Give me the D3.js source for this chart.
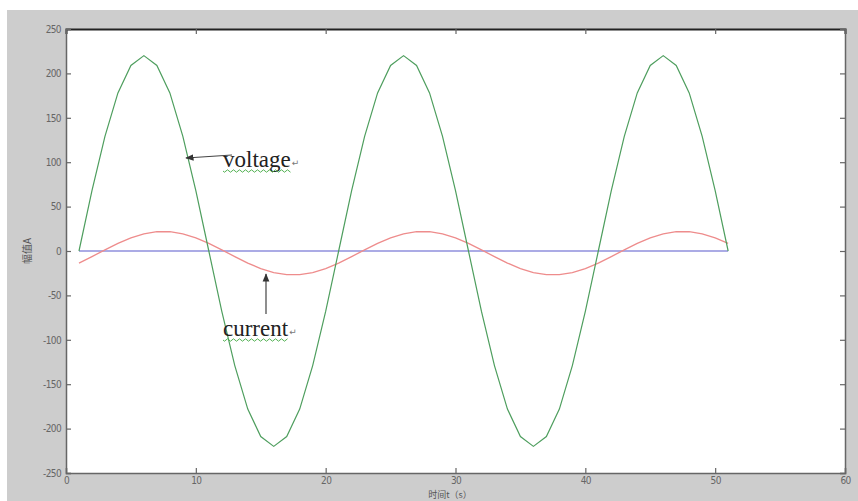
<!DOCTYPE html>
<html><head><meta charset="utf-8">
<script src="https://cdn.jsdelivr.net/npm/d3@7"></script>
<style>body{margin:0;background:#fff;}svg{display:block;}</style>
</head><body>
<script>
const t = d3.range(1, 52);
const voltage = [0,68,129,178,209,220,209,178,129,68,0,-68,-129,-178,-209,-220,-209,-178,-129,-68,
  0,68,129,178,209,220,209,178,129,68,0,-68,-129,-178,-209,-220,-209,-178,-129,-68,
  0,68,129,178,209,220,209,178,129,68,0];
const current = [-13.6,-6.3,1.3,8.6,14.8,19.3,21.7,21.7,19.3,14.8,8.6,1.3,-6.3,-13.6,-19.8,-24.3,-26.7,-26.7,-24.3,-19.8,
  -13.6,-6.3,1.3,8.6,14.8,19.3,21.7,21.7,19.3,14.8,8.6,1.3,-6.3,-13.6,-19.8,-24.3,-26.7,-26.7,-24.3,-19.8,
  -13.6,-6.3,1.3,8.6,14.8,19.3,21.7,21.7,19.3,14.8,8.6];
const baseline = t.map(() => 0);
const xTicks = [0,10,20,30,40,50,60];
const yTicks = [-250,-200,-150,-100,-50,0,50,100,150,200,250];
const xLabel = "时间t（s）";
const yLabel = "幅值A";

const W = 858, H = 501;
const svg = d3.select("body").append("svg").attr("width", W).attr("height", H);
svg.append("rect").attr("x", 7).attr("y", 10).attr("width", W - 7).attr("height", H - 10).attr("fill", "#cdcdcd");

const L = 66, R = 845, T = 29, B = 473;
const x = d3.scaleLinear().domain([0, 60]).range([L, R]);
const y = d3.scaleLinear().domain([-250, 250]).range([B, T]);

svg.append("rect").attr("x", L).attr("y", T).attr("width", R - L).attr("height", B - T).attr("fill", "#fff");

const line = d3.line().x((d, i) => x(t[i])).y(d => y(d));
svg.append("path").datum(baseline).attr("d", line).attr("fill", "none").attr("stroke", "#8f8fdc").attr("stroke-width", 1.3);
svg.append("path").datum(current).attr("d", line).attr("fill", "none").attr("stroke", "#ee8c8c").attr("stroke-width", 1.3);
svg.append("path").datum(voltage).attr("d", line).attr("fill", "none").attr("stroke", "#4e9e5e").attr("stroke-width", 1.2);

// axes
const tickFmt = d => d;
const gB = svg.append("g").attr("transform", `translate(0,${B})`).call(d3.axisBottom(x).tickValues(xTicks).tickSize(-5).tickPadding(4).tickFormat(tickFmt));
const gT = svg.append("g").attr("transform", `translate(0,${T})`).call(d3.axisTop(x).tickValues(xTicks).tickSize(-5).tickFormat(""));
const gL = svg.append("g").attr("transform", `translate(${L},0)`).call(d3.axisLeft(y).tickValues(yTicks).tickSize(-5).tickPadding(5).tickFormat(tickFmt));
const gR = svg.append("g").attr("transform", `translate(${R},0)`).call(d3.axisRight(y).tickValues(yTicks).tickSize(-5).tickFormat(""));
[gB, gT, gL, gR].forEach(g => {
  g.select(".domain").attr("stroke", "#666").attr("stroke-width", 1.5);
  g.selectAll(".tick line").attr("stroke", "#666").attr("stroke-width", 1.2);
  g.selectAll("text").attr("fill", "#666").attr("font-family", "DejaVu Sans Condensed, DejaVu Sans, sans-serif").attr("font-size", 10).style("letter-spacing", "-0.6px");
});
gT.select(".domain").attr("stroke", "#222").attr("stroke-width", 2);

svg.append("text").attr("x", 450).attr("y", 497.5).attr("text-anchor", "middle")
  .attr("font-family", "Noto Sans CJK SC").attr("font-size", 9).attr("fill", "#555").text(xLabel);
svg.append("text").attr("transform", "translate(31,251) rotate(-90)").attr("text-anchor", "middle")
  .attr("font-family", "Noto Sans CJK SC").attr("font-size", 10).attr("fill", "#555").text(yLabel);

// annotations
svg.append("defs").append("marker").attr("id", "ah").attr("viewBox", "0 0 10 10").attr("refX", 9).attr("refY", 5)
  .attr("markerWidth", 7).attr("markerHeight", 7).attr("orient", "auto")
  .append("path").attr("d", "M0,1 L10,5 L0,9 Z").attr("fill", "#333");

function annot(tx, ty, label, ax1, ay1, ax2, ay2) {
  svg.append("line").attr("x1", ax1).attr("y1", ay1).attr("x2", ax2).attr("y2", ay2)
    .attr("stroke", "#444").attr("stroke-width", 1.2).attr("marker-end", "url(#ah)");
  const txt = svg.append("text").attr("x", tx).attr("y", ty).attr("font-family", "Liberation Serif, serif")
    .attr("font-size", 23).attr("fill", "#222").text(label);
  const w = txt.node().getComputedTextLength();
  svg.append("text").attr("x", tx + w + 1).attr("y", ty - 1).attr("font-family", "DejaVu Sans").attr("font-size", 9).attr("fill", "#777").text("↵");
  let d = `M${tx},${ty + 4}`;
  for (let i = 0; i * 3 < w; i++) d += ` L${tx + i * 3 + 1.5},${ty + 4 + (i % 2 ? -1.2 : 1.2)}`;
  svg.append("path").attr("d", d).attr("fill", "none").attr("stroke", "#3fa83f").attr("stroke-width", 0.9);
}
annot(223, 167, "voltage", 232, 155, 186, 158);
annot(223, 336, "current", 266, 314, 266, 274);
</script>
</body></html>
